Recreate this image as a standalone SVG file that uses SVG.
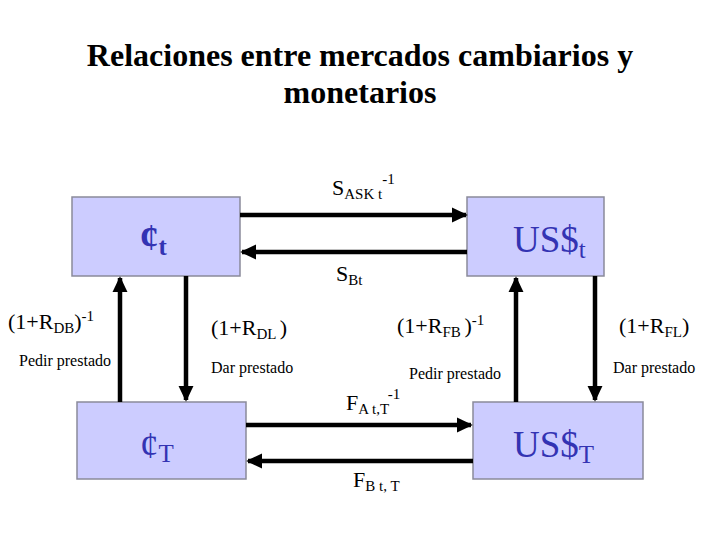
<svg xmlns="http://www.w3.org/2000/svg" width="720" height="540" viewBox="0 0 720 540">
<style>
.box{fill:#CCCCFF;stroke:#8A8A9A;stroke-width:1.5}
.node{font-family:"Liberation Serif",serif;fill:#3333B3;font-size:37px}
.title{font-family:"Liberation Serif",serif;font-weight:bold;font-size:32px;fill:#000;text-anchor:middle}
.lbl{font-family:"Liberation Serif",serif;font-size:22px;fill:#000}
.sm{font-family:"Liberation Serif",serif;font-size:16px;fill:#000}
.arr{stroke:#000;stroke-width:4.5;fill:none;marker-end:url(#ah)}
</style>
<defs>
<marker id="ah" markerWidth="4" markerHeight="4" refX="3.2" refY="2" orient="auto" markerUnits="strokeWidth" viewBox="0 0 4 4">
<path d="M0,0.3 L3.6,2 L0,3.7 Z" fill="#000"/>
</marker>
</defs>
<rect width="720" height="540" fill="#fff"/>
<text class="title" x="360" y="66">Relaciones entre mercados cambiarios y</text>
<text class="title" x="360" y="103">monetarios</text>

<g id="n-ct">
<rect class="box" x="72" y="197" width="168" height="79"/>
<text class="node" x="140" y="250" font-weight="bold" font-size="34">¢<tspan font-size="25" dy="5">t</tspan></text>
</g>
<g id="n-ust">
<rect class="box" x="467" y="197" width="137" height="79"/>
<text class="node" x="513" y="252">US$<tspan font-size="25" dy="6">t</tspan></text>
</g>
<g id="n-cT">
<rect class="box" x="77" y="402" width="169" height="77"/>
<text class="node" x="140" y="458">¢<tspan font-size="25" dy="4">T</tspan></text>
</g>
<g id="n-usT">
<rect class="box" x="473" y="402" width="170" height="77"/>
<text class="node" x="513" y="457">US$<tspan font-size="25" dy="6">T</tspan></text>
</g>

<g id="connectors">
<line class="arr" x1="240" y1="215" x2="466" y2="215"/>
<line class="arr" x1="467" y1="252" x2="242" y2="252"/>
<line class="arr" x1="246" y1="425" x2="471" y2="425"/>
<line class="arr" x1="473" y1="461" x2="248" y2="461"/>
<line class="arr" x1="120" y1="402" x2="120" y2="278"/>
<line class="arr" x1="186" y1="276" x2="186" y2="400"/>
<line class="arr" x1="516" y1="402" x2="516" y2="278"/>
<line class="arr" x1="595" y1="276" x2="595" y2="400"/>
</g>

<g id="labels">
<text class="lbl" x="332" y="195">S<tspan font-size="15" dy="4">ASK t</tspan><tspan font-size="15" dy="-15">-1</tspan></text>
<text class="lbl" x="336" y="281">S<tspan font-size="15" dy="4">Bt</tspan></text>
<text class="lbl" x="346" y="410">F<tspan font-size="15" dy="4">A t,T</tspan><tspan font-size="15" dy="-15">-1</tspan></text>
<text class="lbl" x="353" y="487">F<tspan font-size="15" dy="4">B t, T</tspan></text>

<text class="lbl" x="8" y="329">(1+R<tspan font-size="15" dy="4">DB</tspan><tspan dy="-4">)</tspan><tspan font-size="15" dy="-8">-1</tspan></text>
<text class="sm" x="19" y="366">Pedir prestado</text>
<text class="lbl" x="211" y="335">(1+R<tspan font-size="15" dy="4">DL </tspan><tspan dy="-4">)</tspan></text>
<text class="sm" x="211" y="373">Dar prestado</text>
<text class="lbl" x="397" y="333">(1+R<tspan font-size="15" dy="4">FB </tspan><tspan dy="-4">)</tspan><tspan font-size="15" dy="-8">-1</tspan></text>
<text class="sm" x="409" y="379">Pedir prestado</text>
<text class="lbl" x="619" y="333">(1+R<tspan font-size="15" dy="4">FL</tspan><tspan dy="-4">)</tspan></text>
<text class="sm" x="613" y="373">Dar prestado</text>
</g>
</svg>
